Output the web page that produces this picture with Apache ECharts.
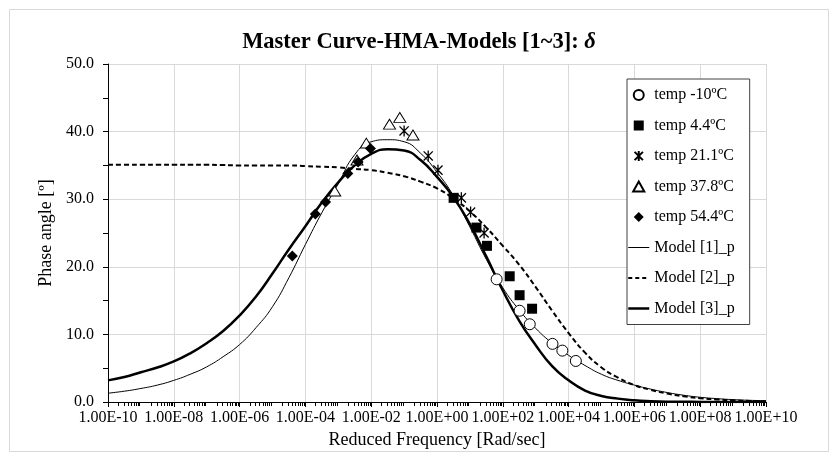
<!DOCTYPE html>
<html>
<head>
<meta charset="utf-8">
<script src="https://cdn.jsdelivr.net/npm/echarts@6/dist/echarts.min.js"></script>
<style>html,body{margin:0;padding:0;background:#fff}#c{width:838px;height:461px}</style>
</head>
<body>
<div id="c"></div>
<script>
// ---- data ----
const tempM10_x = [65, 324, 660, 3240, 6460, 16600];
const tempM10_y = [18.15, 13.5, 11.5, 8.6, 7.6, 6.07];
const temp44_x = [3.2, 15.8, 33, 162, 324, 776];
const temp44_y = [30.2, 25.8, 23.1, 18.6, 15.8, 13.8];
const temp211_x = [0.1, 0.54, 1.07, 5.5, 10.5, 27];
const temp211_y = [40.1, 36.4, 34.3, 30.2, 28.1, 25.0];
const temp378_x = [7.8e-4, 3.7e-3, 7.1e-3, 3.6e-2, 7.4e-2, 0.186];
const temp378_y = [31.2, 35.8, 38.3, 41.1, 42.1, 39.5];
const temp544_x = [4.0e-5, 2.0e-4, 4.1e-4, 1.95e-3, 4.0e-3, 9.5e-3];
const temp544_y = [21.6, 27.8, 29.6, 33.8, 35.5, 37.5];

// model curves sampled every half decade, 1e-10 ... 1e10
const model_x = [1e-10, 3.16e-10, 1e-9, 3.16e-9, 1e-8, 3.16e-8, 1e-7, 3.16e-7, 1e-6, 3.16e-6,
  1e-5, 3.16e-5, 1e-4, 3.16e-4, 1e-3, 3.16e-3, 1e-2, 3.16e-2, 1e-1, 3.16e-1,
  1, 3.16, 10, 31.6, 100, 316, 1e3, 3.16e3, 1e4, 3.16e4,
  1e5, 3.16e5, 1e6, 3.16e6, 1e7, 3.16e7, 1e8, 3.16e8, 1e9, 3.16e9, 1e10];
const model1_y = [1.3, 1.6, 2.0, 2.5, 3.2, 4.1, 5.2, 6.7, 8.5, 11.0,
  14.1, 18.4, 23.3, 28.0, 32.3, 36.6, 38.5, 38.8, 38.5, 36.8,
  34.0, 30.5, 25.9, 21.1, 16.9, 13.6, 10.9, 8.7, 6.9, 5.4,
  4.1, 3.2, 2.5, 1.9, 1.4, 1.0, 0.7, 0.5, 0.35, 0.25, 0.2];
const model2_y = [35.1, 35.1, 35.1, 35.1, 35.1, 35.1, 35.1, 35.05, 35.0, 35.0,
  35.0, 35.0, 34.9, 34.8, 34.7, 34.5, 34.3, 33.9, 33.4, 32.6,
  31.6, 30.1, 28.2, 25.8, 23.1, 20.3, 17.0, 13.5, 10.2, 7.3,
  5.1, 3.6, 2.5, 1.8, 1.25, 0.85, 0.55, 0.38, 0.25, 0.16, 0.1];
const model3_y = [3.2, 3.7, 4.4, 5.1, 6.0, 7.2, 8.7, 10.5, 12.8, 15.6,
  19.0, 22.6, 26.0, 29.5, 32.5, 35.0, 36.7, 37.4, 37.2, 35.8,
  33.3, 30.3, 26.3, 21.5, 16.5, 12.0, 8.4, 5.3, 3.2, 1.7,
  0.9, 0.5, 0.25, 0.12, 0.05, 0.03, 0.01, 0.0, 0.0, 0.0, 0.0];

const seriesNames = ['temp -10ºC', 'temp 4.4ºC', 'temp 21.1ºC', 'temp 37.8ºC', 'temp 54.4ºC',
  'Model [1]_p', 'Model [2]_p', 'Model [3]_p'];

// minor tick positions of the log axis (2..9 x 10^k)
const minorTickValues = [];
for (let e = -10; e < 10; e++) for (let m = 2; m <= 9; m++) minorTickValues.push(m * Math.pow(10, e));

const zip = (xs, ys) => xs.map((x, i) => [x, ys[i]]);
const FONT = '"Liberation Serif", "Times New Roman", serif';
const SYM_CIRCLE = 'circle';
const SYM_SQUARE = 'path://M0,0L10,0L10,10L0,10Z';
const SYM_TRI = 'path://M5,0L10,9L0,9Z';
const SYM_DIAMOND = 'path://M5,0L10,5L5,10L0,5Z';
const SYM_ASTER = 'path://M0,0L10,10M10,0L0,10M5,-1L5,11';
const noIcon = {color: 'transparent', borderColor: 'transparent', borderWidth: 0};
const expLabel = v => { const e = Math.round(Math.log10(v)); return '1.00E' + (e < 0 ? '-' : '+') + String(Math.abs(e)).padStart(2, '0'); };
const frame = {id: 'frame', type: 'rect', shape: {x: 9.5, y: 9.5, width: 819, height: 442},
  style: {fill: 'none', stroke: '#d9d9d9', lineWidth: 1}, silent: true, z: -1};

const chart = echarts.init(document.getElementById('c'), null, {renderer: 'canvas'});
chart.setOption({
  animation: false,
  backgroundColor: '#fff',
  textStyle: {fontFamily: FONT, color: '#000'},
  graphic: [frame],
  title: {
    text: '{t|Master Curve-HMA-Models [1~3]: }{d|δ}',
    left: 'center', top: 26,
    textStyle: {rich: {
      t: {fontFamily: FONT, fontWeight: 'bold', fontSize: 22.5, color: '#000'},
      d: {fontFamily: FONT, fontStyle: 'italic', fontSize: 22.5, color: '#000'}
    }}
  },
  grid: {left: 108, right: 72, top: 64, bottom: 59},
  legend: {
    orient: 'vertical', left: 627, top: 79,
    data: [
      {name: seriesNames[0]}, {name: seriesNames[1]}, {name: seriesNames[2]},
      {name: seriesNames[3]}, {name: seriesNames[4]},
      {name: seriesNames[5], itemStyle: noIcon, lineStyle: {width: 1, color: '#000'}},
      {name: seriesNames[6], itemStyle: noIcon, lineStyle: {width: 2, color: '#000', type: [4, 3]}},
      {name: seriesNames[7], itemStyle: noIcon, lineStyle: {width: 2.5, color: '#000'}}
    ],
    itemWidth: 21, itemHeight: 10, itemGap: 14.5,
    padding: [8, 15, 8, 0],
    borderColor: '#404040', borderWidth: 1, backgroundColor: '#fff',
    textStyle: {fontFamily: FONT, fontSize: 16, color: '#000', lineHeight: 16}
  },
  xAxis: {
    type: 'log', logBase: 10, min: 1e-10, max: 1e10, interval: 2,
    name: 'Reduced Frequency [Rad/sec]', nameLocation: 'middle', nameGap: 28,
    nameTextStyle: {fontFamily: FONT, fontSize: 18, color: '#000'},
    axisLine: {onZero: false, lineStyle: {color: '#000', width: 1}},
    axisTick: {show: true, inside: false, length: 5, lineStyle: {color: '#000'}},
    minorTick: {show: false},
    axisLabel: {fontFamily: FONT, fontSize: 16, color: '#000', margin: 8, formatter: expLabel},
    splitLine: {show: true, lineStyle: {color: '#d9d9d9', width: 1}}
  },
  yAxis: {
    type: 'value', min: 0, max: 50, interval: 10,
    name: 'Phase angle [º]', nameLocation: 'middle', nameGap: 53, nameRotate: 90,
    nameTextStyle: {fontFamily: FONT, fontSize: 18, color: '#000'},
    axisLine: {show: true, lineStyle: {color: '#000', width: 1}},
    axisTick: {show: true, length: 5, lineStyle: {color: '#000'}},
    minorTick: {show: true, splitNumber: 2, length: 5, lineStyle: {color: '#000'}},
    axisLabel: {fontFamily: FONT, fontSize: 16, color: '#000', margin: 14, formatter: v => v.toFixed(1)},
    splitLine: {show: true, lineStyle: {color: '#d9d9d9', width: 1}}
  },
  series: [
    {name: seriesNames[0], type: 'scatter', data: zip(tempM10_x, tempM10_y), symbol: SYM_CIRCLE, symbolSize: 11,
      symbolKeepAspect: true, itemStyle: {color: '#fff', borderColor: '#000', borderWidth: 1, opacity: 1}, z: 5},
    {name: seriesNames[1], type: 'scatter', data: zip(temp44_x, temp44_y), symbol: SYM_SQUARE, symbolSize: 10,
      symbolKeepAspect: true, itemStyle: {color: '#000', opacity: 1}, z: 5},
    {name: seriesNames[2], type: 'scatter', data: zip(temp211_x, temp211_y), symbol: SYM_ASTER, symbolSize: 11,
      symbolKeepAspect: true, itemStyle: {color: 'transparent', borderColor: '#000', borderWidth: 1.3, opacity: 1}, z: 5},
    {name: seriesNames[3], type: 'scatter', data: zip(temp378_x, temp378_y), symbol: SYM_TRI, symbolSize: [12, 11],
      symbolKeepAspect: true, itemStyle: {color: '#fff', borderColor: '#000', borderWidth: 1, opacity: 1}, z: 5},
    {name: seriesNames[4], type: 'scatter', data: zip(temp544_x, temp544_y), symbol: SYM_DIAMOND, symbolSize: 11,
      symbolKeepAspect: true, itemStyle: {color: '#000', opacity: 1}, z: 5},
    {name: seriesNames[5], type: 'line', data: zip(model_x, model1_y), smooth: 0.5, symbol: 'none',
      lineStyle: {color: '#000', width: 1}, itemStyle: {color: '#000'}, z: 3},
    {name: seriesNames[6], type: 'line', data: zip(model_x, model2_y), smooth: 0.5, symbol: 'none',
      lineStyle: {color: '#000', width: 2, type: [5, 3]}, itemStyle: {color: '#000'}, z: 3},
    {name: seriesNames[7], type: 'line', data: zip(model_x, model3_y), smooth: 0.5, symbol: 'none',
      lineStyle: {color: '#000', width: 2.5}, itemStyle: {color: '#000'}, z: 3}
  ]
});

// log-axis minor ticks, placed through the chart's own scales
const y0 = chart.convertToPixel({yAxisIndex: 0}, 0);
const tickEls = minorTickValues.map((v, i) => {
  const x = Math.round(chart.convertToPixel({xAxisIndex: 0}, v)) + 0.5;
  return {id: 'mt' + i, type: 'line', silent: true, z: 10,
    shape: {x1: x, y1: y0, x2: x, y2: y0 + 4}, style: {stroke: '#000', lineWidth: 1}};
});
chart.setOption({graphic: [frame].concat(tickEls)});
</script>
</body>
</html>
